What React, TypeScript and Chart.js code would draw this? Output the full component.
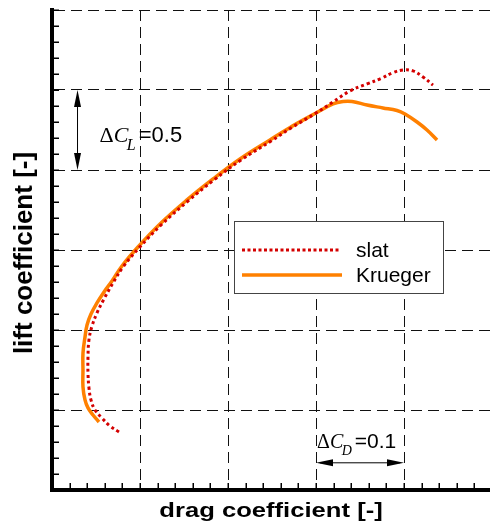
import React, { useEffect, useRef } from "react";
import { Chart, registerables } from "chart.js";

Chart.register(...registerables);

// ---- data ----
const seriesNames = ["slat", "Krueger"];

const slatCd = [0.0761, 0.0659, 0.0568, 0.0489, 0.0443, 0.0420, 0.0409, 0.0409, 0.0420, 0.0455, 0.0511, 0.0591, 0.0693, 0.0807, 0.0989, 0.1239, 0.1545, 0.1841, 0.2148, 0.2489, 0.2716, 0.3000, 0.3193, 0.3386, 0.3580, 0.3739, 0.3875, 0.3989, 0.4102, 0.4216, 0.4330];
const slatCl = [0.363, 0.400, 0.450, 0.500, 0.563, 0.638, 0.731, 0.831, 0.938, 1.025, 1.106, 1.194, 1.294, 1.394, 1.513, 1.656, 1.806, 1.938, 2.063, 2.181, 2.263, 2.356, 2.425, 2.494, 2.538, 2.572, 2.609, 2.625, 2.619, 2.581, 2.531];

const kruegerCd = [0.0534, 0.0466, 0.0409, 0.0375, 0.0352, 0.0352, 0.0352, 0.0375, 0.0398, 0.0443, 0.0511, 0.0591, 0.0682, 0.0795, 0.0977, 0.1227, 0.1534, 0.1830, 0.2136, 0.2477, 0.2705, 0.3000, 0.3193, 0.3307, 0.3409, 0.3580, 0.3761, 0.3920, 0.4011, 0.4148, 0.4261, 0.4375];
const kruegerCl = [0.425, 0.469, 0.513, 0.563, 0.644, 0.750, 0.856, 0.956, 1.031, 1.100, 1.169, 1.238, 1.306, 1.400, 1.519, 1.663, 1.813, 1.944, 2.069, 2.188, 2.266, 2.356, 2.413, 2.428, 2.428, 2.406, 2.388, 2.372, 2.350, 2.300, 2.250, 2.188];

const xRange = [0, 0.4977];
const yRange = [0, 3];
const xMajorStep = 0.1;
const xMinorStep = 0.02;
const yMajorStep = 0.5;
const yMinorStep = 0.1;

const xTitle = "drag coefficient [-]";
const yTitle = "lift coefficient [-]";

// annotation values
const dClArrowCd = 0.029;
const dClFrom = 2.0;
const dClTo = 2.5;
const dClLabel = ["Δ", "C", "L", "=0.5"];
const dCdArrowCl = 0.17;
const dCdFrom = 0.3;
const dCdTo = 0.4;
const dCdLabel = ["Δ", "C", "D", "=0.1"];

const SLAT_COLOR = "#d40000";
const KRUEGER_COLOR = "#ff8000";

function drawArrow(ctx: CanvasRenderingContext2D, x1: number, y1: number, x2: number, y2: number) {
  const headLen = 17;
  const halfW = 3.5;
  const dx = x2 - x1;
  const dy = y2 - y1;
  const len = Math.hypot(dx, dy);
  const ux = dx / len;
  const uy = dy / len;
  ctx.save();
  ctx.strokeStyle = "#000";
  ctx.fillStyle = "#000";
  ctx.lineWidth = 1;
  ctx.beginPath();
  ctx.moveTo(x1 + ux * 4, y1 + uy * 4);
  ctx.lineTo(x2 - ux * 4, y2 - uy * 4);
  ctx.stroke();
  const head = (tx: number, ty: number, dirx: number, diry: number) => {
    const bx = tx - dirx * headLen;
    const by = ty - diry * headLen;
    ctx.beginPath();
    ctx.moveTo(tx, ty);
    ctx.lineTo(bx - diry * halfW, by + dirx * halfW);
    ctx.lineTo(bx + diry * halfW, by - dirx * halfW);
    ctx.closePath();
    ctx.fill();
  };
  head(x2, y2, ux, uy);
  head(x1, y1, -ux, -uy);
  ctx.restore();
}

function drawDeltaLabel(
  ctx: CanvasRenderingContext2D,
  parts: string[],
  x: number,
  baseline: number,
  size: number,
  subSize: number,
  numSize: number
) {
  ctx.save();
  ctx.fillStyle = "#000";
  ctx.textAlign = "left";
  ctx.textBaseline = "alphabetic";
  let cx = x;
  ctx.font = `${size}px "Liberation Serif", "Times New Roman", serif`;
  ctx.fillText(parts[0], cx, baseline);
  cx += ctx.measureText(parts[0]).width;
  ctx.font = `italic ${size}px "Liberation Serif", "Times New Roman", serif`;
  ctx.fillText(parts[1], cx, baseline);
  cx += ctx.measureText(parts[1]).width - 1.5;
  ctx.font = `italic ${subSize}px "Liberation Serif", "Times New Roman", serif`;
  ctx.fillText(parts[2], cx, baseline + size * 0.36);
  cx += ctx.measureText(parts[2]).width + 3;
  ctx.font = `${numSize}px "Liberation Sans", Arial, sans-serif`;
  ctx.fillText(parts[3], cx, baseline);
  ctx.restore();
}

const decorPlugin = {
  id: "decor",
  afterDatasetsDraw(chart: any) {
    const ctx: CanvasRenderingContext2D = chart.ctx;
    const xs = chart.scales.x;
    const ys = chart.scales.y;
    const area = chart.chartArea;

    // minor ticks, pointing inward
    ctx.save();
    ctx.strokeStyle = "#000";
    ctx.lineWidth = 1.5;
    ctx.beginPath();
    for (let i = 0; i * yMinorStep <= yRange[1] + 1e-9; i++) {
      const py = Math.round(ys.getPixelForValue(i * yMinorStep)) + 0.25;
      ctx.moveTo(area.left, py);
      ctx.lineTo(area.left + 7, py);
    }
    for (let i = 0; i * xMinorStep <= xRange[1] + 1e-9; i++) {
      const px = Math.round(xs.getPixelForValue(i * xMinorStep)) + 0.25;
      ctx.moveTo(px, area.bottom);
      ctx.lineTo(px, area.bottom - 7);
    }
    ctx.stroke();
    ctx.restore();

    // legend box
    const lx = 234, ly = 221, lw = 209, lh = 72;
    ctx.save();
    ctx.fillStyle = "#fff";
    ctx.fillRect(lx, ly, lw, lh);
    ctx.strokeStyle = "#444";
    ctx.lineWidth = 1;
    ctx.strokeRect(lx + 0.5, ly + 0.5, lw, lh);
    ctx.lineWidth = 3;
    ctx.strokeStyle = SLAT_COLOR;
    ctx.setLineDash([3, 2.5]);
    ctx.beginPath();
    ctx.moveTo(242, 250);
    ctx.lineTo(339, 250);
    ctx.stroke();
    ctx.setLineDash([]);
    ctx.strokeStyle = KRUEGER_COLOR;
    ctx.lineWidth = 3.5;
    ctx.beginPath();
    ctx.moveTo(242, 275);
    ctx.lineTo(342, 275);
    ctx.stroke();
    ctx.fillStyle = "#000";
    ctx.font = '21px "Liberation Sans", Arial, sans-serif';
    ctx.textBaseline = "alphabetic";
    ctx.fillText(seriesNames[0], 356, 257);
    ctx.fillText(seriesNames[1], 356, 282);
    ctx.restore();

    // delta annotations
    const ax = xs.getPixelForValue(dClArrowCd);
    const ay1 = ys.getPixelForValue(dClTo);
    const ay2 = ys.getPixelForValue(dClFrom);
    drawArrow(ctx, ax, ay1, ax, ay2);
    drawDeltaLabel(ctx, dClLabel, ax + 22, (ay1 + ay2) / 2 + 12, 22, 16, 22);

    const bx1 = xs.getPixelForValue(dCdFrom);
    const bx2 = xs.getPixelForValue(dCdTo);
    const by = ys.getPixelForValue(dCdArrowCl);
    drawArrow(ctx, bx1, by, bx2, by);
    drawDeltaLabel(ctx, dCdLabel, bx1 + 1, by - 15, 20, 14, 21);

    // axis titles
    ctx.save();
    ctx.fillStyle = "#000";
    ctx.textAlign = "center";
    ctx.textBaseline = "alphabetic";
    ctx.font = 'bold 21px "Liberation Sans", Arial, sans-serif';
    ctx.translate(271, 517);
    ctx.scale(1.22, 1);
    ctx.fillText(xTitle, 0, 0);
    ctx.restore();

    ctx.save();
    ctx.fillStyle = "#000";
    ctx.textAlign = "center";
    ctx.textBaseline = "alphabetic";
    ctx.font = 'bold 26px "Liberation Sans", Arial, sans-serif';
    ctx.translate(32, 253);
    ctx.rotate(-Math.PI / 2);
    ctx.fillText(yTitle, 0, 0);
    ctx.restore();
  },
};

export default function App() {
  const canvasRef = useRef<HTMLCanvasElement | null>(null);

  useEffect(() => {
    if (!canvasRef.current) return;
    const chart = new Chart(canvasRef.current, {
      type: "line",
      data: {
        datasets: [
          {
            label: seriesNames[0],
            data: slatCd.map((x, i) => ({ x, y: slatCl[i] })),
            borderColor: SLAT_COLOR,
            borderWidth: 3,
            borderDash: [3, 3],
            pointRadius: 0,
            tension: 0.4,
            fill: false,
          },
          {
            label: seriesNames[1],
            data: kruegerCd.map((x, i) => ({ x, y: kruegerCl[i] })),
            borderColor: KRUEGER_COLOR,
            borderWidth: 3.5,
            pointRadius: 0,
            tension: 0.4,
            fill: false,
          },
        ],
      },
      options: {
        animation: false,
        responsive: false,
        devicePixelRatio: 1,
        layout: { padding: { left: 52, top: 10, right: 0, bottom: 34 } },
        plugins: {
          legend: { display: false },
          tooltip: { enabled: false },
          title: { display: false },
        },
        events: [],
        scales: {
          x: {
            type: "linear",
            min: xRange[0],
            max: xRange[1],
            ticks: { display: false, stepSize: xMajorStep, includeBounds: false },
            grid: { color: "#111", lineWidth: 1, drawTicks: false },
            border: { display: true, width: 4, color: "#000", dash: [11, 6] },
            title: { display: false },
            afterFit: (s: any) => {
              s.height = 0;
            },
          },
          y: {
            type: "linear",
            min: yRange[0],
            max: yRange[1],
            ticks: { display: false, stepSize: yMajorStep },
            grid: { color: "#111", lineWidth: 1, drawTicks: false },
            border: { display: true, width: 4, color: "#000", dash: [11, 6] },
            title: { display: false },
            afterFit: (s: any) => {
              s.width = 0;
            },
          },
        },
      } as any,
      plugins: [decorPlugin],
    });
    return () => chart.destroy();
  }, []);

  return (
    <div style={{ position: "absolute", left: 0, top: 0, width: 490, height: 524, background: "#fff" }}>
      <canvas ref={canvasRef} width={490} height={524} style={{ display: "block", width: 490, height: 524 }} />
    </div>
  );
}
